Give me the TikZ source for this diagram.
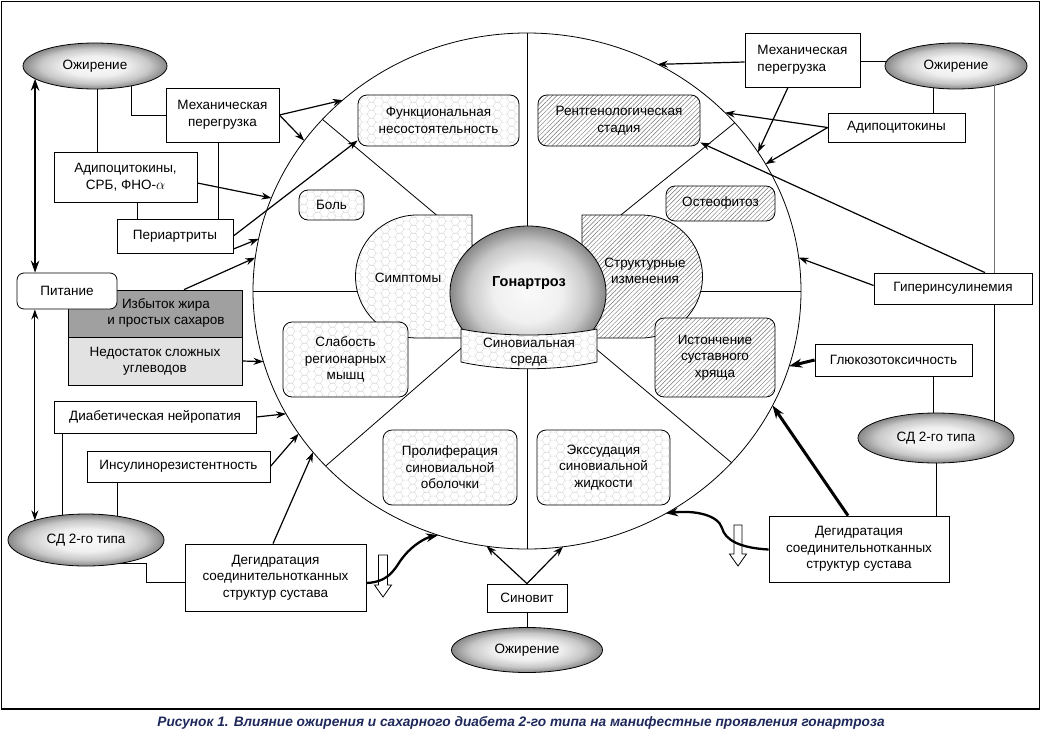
\documentclass[tikz,border=0pt]{standalone}
\usepackage{fontspec}
\setmainfont{Liberation Sans}
\usetikzlibrary{arrows.meta,shapes.geometric,patterns,patterns.meta}

\pgfdeclarepatternformonly{hexa}{\pgfpointorigin}{\pgfqpoint{13.5pt}{7.794pt}}{\pgfqpoint{13.5pt}{7.794pt}}{%
  \pgfsetlinewidth{0.4pt}%
  \pgfpathmoveto{\pgfqpoint{0pt}{3.897pt}}\pgfpathlineto{\pgfqpoint{2.25pt}{3.897pt}}%
  \pgfpathlineto{\pgfqpoint{4.5pt}{7.794pt}}\pgfpathlineto{\pgfqpoint{9pt}{7.794pt}}%
  \pgfpathlineto{\pgfqpoint{11.25pt}{3.897pt}}\pgfpathlineto{\pgfqpoint{13.5pt}{3.897pt}}%
  \pgfpathmoveto{\pgfqpoint{2.25pt}{3.897pt}}\pgfpathlineto{\pgfqpoint{4.5pt}{0pt}}%
  \pgfpathlineto{\pgfqpoint{9pt}{0pt}}\pgfpathlineto{\pgfqpoint{11.25pt}{3.897pt}}%
  \pgfusepath{stroke}}

\pgfdeclareradialshading{ovalshade}{\pgfpoint{0bp}{0bp}}{color(0bp)=(black!2); color(11bp)=(black!6); color(19bp)=(black!22); color(25bp)=(black!47); color(50bp)=(black!47)}

\definecolor{capblue}{RGB}{30,40,90}
\definecolor{izbgray}{RGB}{160,160,160}
\definecolor{nedgray}{RGB}{226,226,226}
\newcommand{\diagfont}{\fontsize{13.5pt}{16.5pt}\selectfont}

\begin{document}
\begin{tikzpicture}[x=1pt,y=-1pt,
  con/.style={line width=0.8pt},
  greycon/.style={line width=0.8pt, draw=black!55},
  arr/.style={line width=1.2pt, -{Stealth[length=10pt,width=7pt]}},
  arrtwo/.style={line width=1.2pt, {Stealth[length=10pt,width=7pt]}-{Stealth[length=10pt,width=7pt]}},
  thktwo/.style={line width=2.3pt, {Stealth[length=12pt,width=8.5pt]}-{Stealth[length=12pt,width=8.5pt]}},
  thk/.style={line width=3pt, -{Stealth[length=13pt,width=9pt]}},
  wavy/.style={line width=2.3pt, -{Stealth[length=12pt,width=8.5pt]}},
  txt/.style={font=\diagfont, align=center, inner sep=0pt},
  box/.style={draw, line width=0.8pt, fill=white, inner sep=0pt, align=center, font=\diagfont},
  rbox/.style={box, rounded corners=7pt},
  hexfill/.style={preaction={fill=white}, pattern=hexa, pattern color=black!16},
  hatchfill/.style={preaction={fill=white}, pattern={Lines[angle=45,distance=3.2pt,line width=0.45pt]}, pattern color=black!55},
  hexbox/.style={draw, line width=0.8pt, rounded corners=9pt, hexfill, inner sep=0pt, align=center, font=\diagfont},
  hatchbox/.style={draw, line width=0.8pt, rounded corners=9pt, hatchfill, inner sep=0pt, align=center, font=\diagfont},
  oval/.style={ellipse, draw, line width=0.8pt, inner sep=0pt, outer sep=0pt, shading=ovalshade, font=\diagfont}
]
\useasboundingbox (0,0) rectangle (1041,734);
\draw[line width=1.3pt] (1.5,1.5) rectangle (1039.5,709);

% big circle
\node[ellipse, draw, line width=0.8pt, minimum width=548pt, minimum height=516pt, inner sep=0pt, outer sep=0pt] (C) at (527,291) {};
\foreach \a in {0,39.4,90,140.6,180,221.9,270,320.6} \draw[con] (C.center) -- (C.\a);

% inner boxes
\node[hexbox, minimum width=161pt, minimum height=51pt] (func) at (438.5,120.5) {Функциональная\\несостоятельность};
\node[hatchbox, minimum width=162pt, minimum height=51pt] (rentg) at (619,120.5) {Рентгенологическая\\стадия};
\node[hexbox, minimum width=65pt, minimum height=30pt] (bol) at (331.5,205) {Боль};
\node[hatchbox, minimum width=109pt, minimum height=35pt] (osteo) at (720.5,203.5) {Остеофитоз};

% symptoms / structural shapes
\draw[con, hexfill] (472,215) -- (417,215) arc[start angle=90,end angle=270,radius=61.5pt] -- (472,338) -- cycle;
\node[txt] (simpt) at (408,278) {Симптомы};
\draw[con, hatchfill] (582,215) -- (641,215) arc[start angle=90,end angle=-90,radius=61.5pt] -- (582,338) -- cycle;
\node[txt] (struct) at (645,271) {Структурные\\изменения};

\node[hexbox, minimum width=125pt, minimum height=75pt] (slab) at (345.5,359.5) {Слабость\\регионарных\\мышц};
\node[hatchbox, minimum width=120pt, minimum height=79pt] (ist) at (715,357.5) {Истончение\\суставного\\хряща};
\node[hexbox, minimum width=134pt, minimum height=75pt] (prol) at (450,467.5) {Пролиферация\\синовиальной\\оболочки};
\node[hexbox, minimum width=133pt, minimum height=75pt] (exs) at (603.5,467.5) {Экссудация\\синовиальной\\жидкости};

% dome and synovial band
\draw[con, shading=ovalshade] (528,293) ellipse[x radius=78pt, y radius=67pt];
\node[txt, font=\fontsize{14.5pt}{16pt}\selectfont\bfseries] (gon) at (529,283) {Гонартроз};
\draw[con, hexfill] (461,329) .. controls (500,337) and (556,337) .. (597,329) -- (597,362) .. controls (556,371) and (500,371) .. (461,362) -- cycle;
\node[txt] (sred) at (529,352) {Синовиальная\\среда};

% left side nodes
\node[oval, minimum width=144pt, minimum height=46pt] (obL) at (95,66) {Ожирение};
\node[box, minimum width=113pt, minimum height=54pt] (mechL) at (222.5,115) {Механическая\\перегрузка};
\node[box, minimum width=143pt, minimum height=50pt] (adipoL) at (125.5,177) {Адипоцитокины,\\СРБ, ФНО-$\alpha$};
\node[box, minimum width=116pt, minimum height=34pt] (peri) at (175,236) {Периартриты};
\node[draw, line width=0.8pt, fill=izbgray, minimum width=174pt, minimum height=47pt, inner sep=0pt] (izb) at (155,313.5) {};
\node[txt] (izbt) at (166,313) {Избыток жира\\и простых сахаров};
\node[draw, line width=0.8pt, fill=nedgray, minimum width=174pt, minimum height=48pt, inner sep=0pt, align=center, font=\diagfont] (ned) at (155,361) {Недостаток сложных\\углеводов};
\node[rbox, minimum width=100pt, minimum height=36pt] (pit) at (67,291) {Питание};
\node[box, minimum width=202pt, minimum height=32pt] (diab) at (155,417) {Диабетическая нейропатия};
\node[box, minimum width=183pt, minimum height=31pt] (ins) at (178.5,466.5) {Инсулинорезистентность};
\node[oval, minimum width=156pt, minimum height=52pt] (sdL) at (86,540) {СД 2-го типа};
\node[box, minimum width=181pt, minimum height=67pt] (degL) at (275.5,577.5) {Дегидратация\\соединительнотканных\\структур сустава};

% right side nodes
\node[box, minimum width=115pt, minimum height=54pt, align=left] (mechR) at (802.5,60) {Механическая\\перегрузка};
\node[oval, minimum width=142pt, minimum height=46pt] (obR) at (956,66) {Ожирение};
\node[box, minimum width=137pt, minimum height=29pt] (adipoR) at (896.5,127.5) {Адипоцитокины};
\node[box, minimum width=158pt, minimum height=31pt] (giper) at (953,288.5) {Гиперинсулинемия};
\node[box, minimum width=157pt, minimum height=32pt] (gluc) at (893.5,360) {Глюкозотоксичность};
\node[oval, minimum width=156pt, minimum height=50pt] (sdR) at (936,438) {СД 2-го типа};
\node[box, minimum width=180pt, minimum height=66pt] (degR) at (859,549) {Дегидратация\\соединительнотканных\\структур сустава};

% bottom
\node[box, minimum width=80pt, minimum height=28pt] (sinovit) at (527,598) {Синовит};
\node[oval, minimum width=151pt, minimum height=45pt] (obB) at (527,650) {Ожирение};

% caption
\node[font=\fontsize{13.7pt}{15pt}\selectfont\bfseries\itshape, text=capblue, inner sep=0pt] (cap) at (521,723) {Рисунок 1. Влияние ожирения и сахарного диабета 2-го типа на манифестные проявления гонартроза};

% left connectors
\draw[thktwo] (obL.192) -- (obL.192 |- pit.north);
\draw[arrtwo] (pit.south -| sdL.159.5) -- (sdL.159.5);
\draw[con] (obL.331) -- (obL.331 |- mechL.west) -- (mechL.west);
\draw[con] ([xshift=2pt]obL.south) -- ([xshift=2pt]obL.south |- adipoL.north);
\draw[con] ([xshift=11.5pt]adipoL.south) -- ([xshift=11.5pt]adipoL.south |- peri.north);
\draw[con] ([xshift=-4.5pt]mechL.south) -- ([xshift=-4.5pt]mechL.south |- peri.north);
\draw[arr] (mechL.east) -- (C.134.8);
\draw[arr] (mechL.east) -- (C.146);
\draw[arr] ([yshift=-6pt]adipoL.east) -- (C.160.9);
\draw[arr] (peri.east) -- ([yshift=-20pt]func.west);
\draw[arr] ([yshift=-13pt]peri.east) -- (C.169.9);
\draw[arr] ([xshift=29pt]izb.north) -- (C.173.9);
\draw[arr] (ned.east) -- (C.195);
\draw[arr] (diab.east) -- (C.207);
\draw[arr] (ins.east) -- (C.212.3);
\draw[arr] ([xshift=-2.5pt]degL.north) -- (C.217.9);
\draw[con] (diab.south -| sdL.134.2) -- (sdL.134.2);
\draw[con] (ins.south -| sdL.37.6) -- (sdL.37.6);
\draw[con] (sdL.323.5) -- ++(29,0) |- ([yshift=-4.5pt]degL.west);
\draw[con, fill=white] (378.5,555) -- (387.5,555) -- (387.5,585) -- (391.5,585) -- (383,597) -- (374.5,585) -- (378.5,585) -- cycle;
\draw[wavy] ([yshift=-5.5pt]degL.east) .. controls (392,582) and (396,565) .. (404,556) .. controls (413,545) and (425,538) .. (C.250.6);

% right connectors
\draw[arr] ([yshift=-2pt]mechR.west) -- (C.60.2);
\draw[con] (mechR.east |- obR.176) -- (obR.176);
\draw[con] (obR.224.9) -- (obR.224.9 |- adipoR.north);
\draw[greycon] (obR.333.8) -- (obR.333.8 |- giper.north);
\draw[arr] (adipoR.west) -- (C.42.6);
\draw[arr] (adipoR.west) -- (C.28.7);
\draw[arr] ([xshift=-14.5pt]mechR.south) -- (C.31.9);
\draw[arr] ([xshift=32pt]giper.north) -- ([yshift=-22pt]rentg.east);
\draw[arr] ([yshift=3pt]giper.west) -- (C.7.1);
\draw[con] (giper.south -| sdR.16.1) -- (sdR.16.1);
\draw[thk] (gluc.west) -- (C.344.3);
\draw[con] ([xshift=39.5pt]gluc.south) -- ([xshift=39.5pt]gluc.south |- sdR.north);
\draw[con] (sdR.south) -- (sdR.south |- degR.north);
\draw[thk] ([xshift=-11pt]degR.north) -- (C.335.5);
\draw[con, fill=white] (734,525) -- (742,525) -- (742,554) -- (746.5,554) -- (738,566) -- (729.5,554) -- (734,554) -- cycle;
\draw[wavy] ([yshift=-0.5pt]degR.west) .. controls (740,548) and (725,540) .. (722,528) .. controls (718,515) and (695,510) .. (C.302.6);

% bottom connectors
\draw[arr] (sinovit.north) -- (C.261.1);
\draw[arr] (sinovit.north) -- (C.278.9);
\draw[con] (sinovit.south) -- (obB.north);
\end{tikzpicture}
\end{document}
